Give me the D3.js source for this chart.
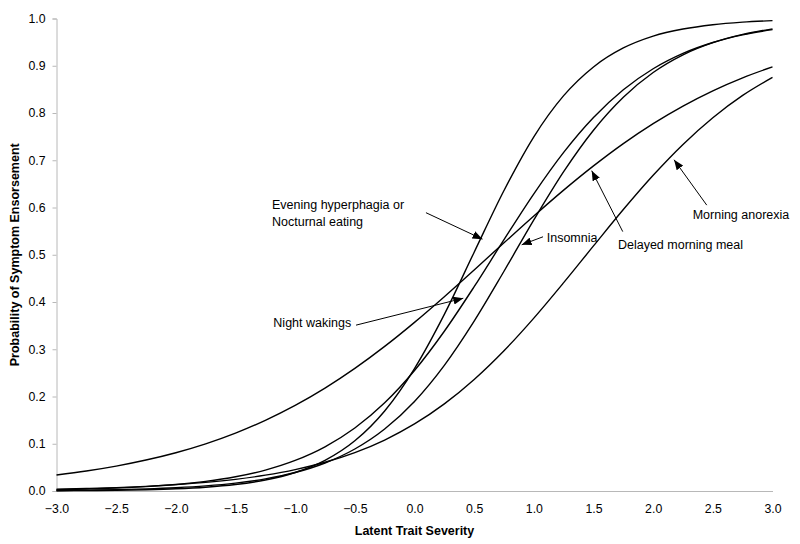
<!DOCTYPE html>
<html>
<head>
<meta charset="utf-8">
<script src="https://cdn.jsdelivr.net/npm/d3@7"></script>
<style>
  html, body { margin: 0; padding: 0; background: #fff; }
  svg { display: block; }
  text { font-family: Arial, "Liberation Sans", Helvetica, sans-serif; fill: #000; }
</style>
</head>
<body>
<svg id="chart" width="800" height="544"></svg>
<script>
// ---- Data ----
const theta = [-3, -2.75, -2.5, -2.25, -2, -1.75, -1.5, -1.25, -1, -0.75, -0.5, -0.25, 0,
               0.25, 0.5, 0.75, 1, 1.25, 1.5, 1.75, 2, 2.25, 2.5, 2.75, 3];

const eveningHyperphagia = [0.0006, 0.0009, 0.0016, 0.0028, 0.0047, 0.0080, 0.0137, 0.0232, 0.0392,
  0.0648, 0.1062, 0.1694, 0.2592, 0.3738, 0.5054, 0.6360, 0.7497, 0.8367, 0.8975, 0.9376,
  0.9627, 0.9777, 0.9869, 0.9923, 0.9955];

const delayedMorningMeal = [0.0339, 0.0423, 0.0527, 0.0655, 0.0810, 0.0998, 0.1225, 0.1495, 0.1811,
  0.2177, 0.2594, 0.3060, 0.3569, 0.4112, 0.4678, 0.5252, 0.5820, 0.6367, 0.6880, 0.7352,
  0.7775, 0.8147, 0.8470, 0.8745, 0.8976];

const morningAnorexia = [0.0039, 0.0053, 0.0072, 0.0098, 0.0134, 0.0182, 0.0247, 0.0335, 0.0452,
  0.0608, 0.0813, 0.1079, 0.1419, 0.1843, 0.2360, 0.2968, 0.3659, 0.4409, 0.5187, 0.5957,
  0.6682, 0.7335, 0.7900, 0.8372, 0.8754];

const nightWakings = [0.0028, 0.0042, 0.0062, 0.0093, 0.0138, 0.0204, 0.0301, 0.0443, 0.0647,
  0.0935, 0.1333, 0.1866, 0.2550, 0.3381, 0.4324, 0.5320, 0.6290, 0.7167, 0.7905, 0.8492,
  0.8936, 0.9261, 0.9492, 0.9654, 0.9765];

const insomnia = [0.0012, 0.0019, 0.0029, 0.0045, 0.0070, 0.0108, 0.0167, 0.0256, 0.0391,
  0.0593, 0.0889, 0.1312, 0.1896, 0.2660, 0.3596, 0.4651, 0.5738, 0.6759, 0.7636, 0.8334,
  0.8857, 0.9231, 0.9489, 0.9664, 0.9781];

const seriesNames = ["Evening hyperphagia or Nocturnal eating", "Delayed morning meal",
  "Morning anorexia", "Night wakings", "Insomnia"];
const seriesValues = [eveningHyperphagia, delayedMorningMeal, morningAnorexia, nightWakings, insomnia];

const xTicks = [-3.0, -2.5, -2.0, -1.5, -1.0, -0.5, 0.0, 0.5, 1.0, 1.5, 2.0, 2.5, 3.0];
const yTicks = [0.0, 0.1, 0.2, 0.3, 0.4, 0.5, 0.6, 0.7, 0.8, 0.9, 1.0];

// annotation labels (lines of text) and anchor points in data units
const annotationLabels = [["Evening hyperphagia or", "Nocturnal eating"], ["Insomnia"],
  ["Delayed morning meal"], ["Morning anorexia"], ["Night wakings"]];
const annotationText = [[-1.194, 0.596], [1.108, 0.528], [1.705, 0.513], [2.331, 0.575], [-1.183, 0.347]];
const annotationFrom = [[0.096, 0.589], [1.077, 0.538], [1.745, 0.549], [2.449, 0.605], [-0.490, 0.351]];
const annotationTip  = [[0.570, 0.533], [0.898, 0.521], [1.485, 0.678], [2.175, 0.701], [0.409, 0.408]];

// ---- Drawing ----
const svg = d3.select("#chart");
const x = d3.scaleLinear().domain([-3, 3]).range([56.5, 772.5]);
const y = d3.scaleLinear().domain([0, 1]).range([491, 18.5]);
const axisColor = "#b8b8b8";

// Y axis
const yAxis = svg.append("g").attr("transform", `translate(${x(-3)},0)`)
  .call(d3.axisLeft(y).tickValues(yTicks).tickFormat(d3.format(".1f")).tickSize(4).tickPadding(7));
yAxis.select(".domain").attr("stroke", axisColor);
yAxis.selectAll(".tick line").attr("stroke", axisColor);
yAxis.selectAll(".tick text").attr("font-size", 12.3).attr("font-family", "Arial, 'Liberation Sans', sans-serif").attr("fill", "#000");

// X axis
const xAxis = svg.append("g").attr("transform", `translate(0,${y(0)})`)
  .call(d3.axisBottom(x).tickValues(xTicks).tickFormat(d3.format(".1f")).tickSize(0).tickSizeOuter(0).tickPadding(13));
xAxis.select(".domain").attr("stroke", axisColor);
xAxis.selectAll(".tick text").attr("font-size", 12.3).attr("font-family", "Arial, 'Liberation Sans', sans-serif").attr("fill", "#000");

// Axis titles
svg.append("text").attr("x", (x(-3) + x(3)) / 2).attr("y", 534.5)
  .attr("text-anchor", "middle").attr("font-size", 12.5).attr("font-weight", "bold")
  .text("Latent Trait Severity");
svg.append("text").attr("transform", `translate(18.5,${(y(0) + y(1)) / 2}) rotate(-90)`)
  .attr("text-anchor", "middle").attr("font-size", 12.5).attr("font-weight", "bold")
  .text("Probability of Symptom Ensorsement");

// Curves
const line = d3.line().x((d, i) => x(theta[i])).y(d => y(d)).curve(d3.curveMonotoneX);
svg.append("g").selectAll("path").data(seriesValues).join("path")
  .attr("d", line).attr("fill", "none").attr("stroke", "#000").attr("stroke-width", 1.4)
  .append("title").text((d, i) => seriesNames[i]);

// Arrow marker
svg.append("defs").append("marker").attr("id", "arrow")
  .attr("viewBox", "0 0 10 8").attr("refX", 10).attr("refY", 4)
  .attr("markerWidth", 10).attr("markerHeight", 8).attr("markerUnits", "userSpaceOnUse")
  .attr("orient", "auto")
  .append("path").attr("d", "M0,0 L10,4 L0,8 Z").attr("fill", "#000");

// Annotations
annotationLabels.forEach((lines, i) => {
  const t = svg.append("text").attr("font-size", 12.5);
  lines.forEach((s, j) => {
    t.append("tspan").attr("x", x(annotationText[i][0])).attr("y", y(annotationText[i][1]) + j * 16.5).text(s);
  });
  svg.append("line")
    .attr("x1", x(annotationFrom[i][0])).attr("y1", y(annotationFrom[i][1]))
    .attr("x2", x(annotationTip[i][0])).attr("y2", y(annotationTip[i][1]))
    .attr("stroke", "#000").attr("stroke-width", 1)
    .attr("marker-end", "url(#arrow)");
});
</script>
</body>
</html>
